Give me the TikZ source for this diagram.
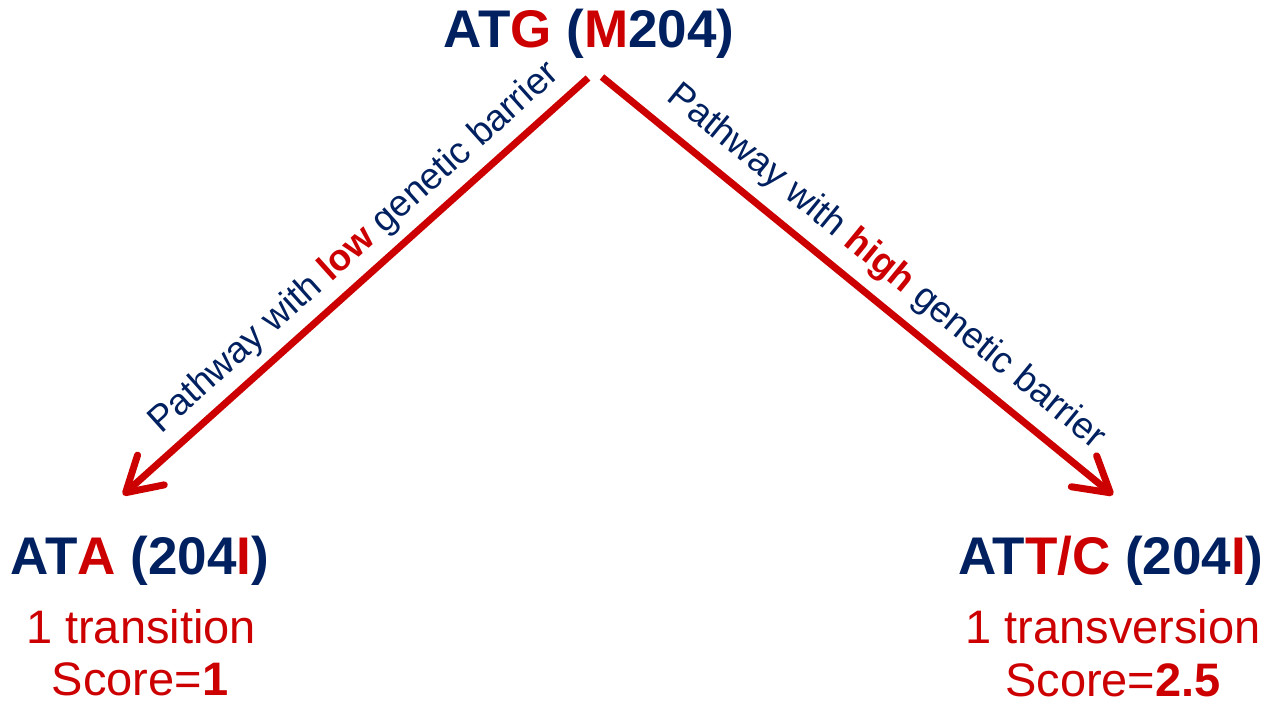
\documentclass[tikz,border=0pt]{standalone}
\usepackage{fontspec}
\setmainfont{Liberation Sans}
\usetikzlibrary{arrows.meta}
\definecolor{navy}{RGB}{0,32,96}
\definecolor{mred}{RGB}{204,0,0}

\begin{document}
\begin{tikzpicture}[x=1pt,y=-1pt,
  codon/.style={font=\fontsize{53}{53}\selectfont\bfseries, text=navy, inner sep=0pt, anchor=base},
  note/.style={font=\fontsize{47}{47}\selectfont, text=mred, inner sep=0pt, anchor=base},
  pathlabel/.style={font=\fontsize{37}{37}\selectfont, text=navy, inner sep=0pt},
  pathway/.style={draw=mred, line width=7pt, -{Straight Barb[length=34pt,width=40pt,round]}}
]
\useasboundingbox (0,0) rectangle (1271,705);

% wild-type codon
\node[codon] (wt) at (589,47) {AT\textcolor{mred}{G} (\textcolor{mred}{M}204)};

% low-barrier branch
\node[codon] (ata) at (140,574) {AT\textcolor{mred}{A} (204\textcolor{mred}{I})};
\node[note] (ata1) at (141,643) {1 transition};
\node[note] (ata2) at (140,695) {Score=\textbf{1}};

% high-barrier branch
\node[codon] (att) at (1111,574) {AT\textcolor{mred}{T/C} (204\textcolor{mred}{I})};
\node[note] (att1) at (1113,643) {1 transversion};
\node[note] (att2) at (1113,696) {Score=\textbf{2.5}};

% pathways
\coordinate (l0) at (588,78);
\coordinate (l1) at (123,495);
\coordinate (r0) at (602,77);
\coordinate (r1) at (1113,495);
\draw[pathway] (l0) -- (l1);
\draw[pathway] (r0) -- (r1);

\node[pathlabel, rotate=41.9] (lowlbl) at (354.5,248.5)
  {Pathway with \textbf{\textcolor{mred}{low}} genetic barrier};
\node[pathlabel, rotate=-39.3] (highlbl) at (886,267.5)
  {Pathway with \textbf{\textcolor{mred}{high}} genetic barrier};
\end{tikzpicture}
\end{document}
